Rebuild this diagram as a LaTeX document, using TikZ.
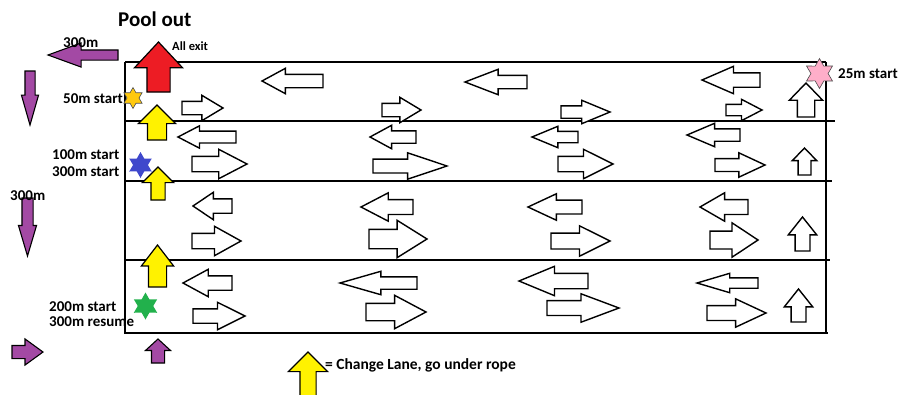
\documentclass[tikz,border=0pt]{standalone}
\usepackage{fontspec}
\setmainfont{Carlito}
\usetikzlibrary{shapes.arrows,shapes.geometric}

\definecolor{paintpurple}{HTML}{A349A4}
\definecolor{paintyellow}{HTML}{FFF200}
\definecolor{paintred}{HTML}{ED1C24}
\definecolor{paintgold}{HTML}{FFC90E}
\definecolor{paintblue}{HTML}{3F48CC}
\definecolor{paintgreen}{HTML}{22B14C}
\definecolor{paintpink}{HTML}{FFAEC9}

\tikzset{
  % length, shaft, head width, tip angle
  dims/.style n args={4}{minimum height=#1, inner ysep=#2/2,
    single arrow head extend=(#3-#2)/2, single arrow tip angle=#4},
  blockarrow/.style={single arrow, draw=black, inner sep=0pt, outer sep=0pt, anchor=tail},
  lanearrow/.style={blockarrow, fill=white, line width=1.4pt},
  ra/.style n args={3}{lanearrow, dims={#1}{#2/2}{#2}{#3}},
  la/.style n args={3}{lanearrow, dims={#1}{#2/2}{#2}{#3}, rotate=180},
  ua/.style n args={3}{lanearrow, dims={#1}{#2/2}{#2}{#3}, rotate=90},
  changelane/.style={blockarrow, fill=paintyellow, line width=1.2pt, rotate=90},
  purplearrow/.style={blockarrow, fill=paintpurple, line width=1.1pt},
  startstar/.style={star, star points=6, star point ratio=1.75, inner sep=0pt},
  note/.style={font=\bfseries\fontsize{15}{17}\selectfont, inner sep=0pt, anchor=west},
}

\begin{document}
\begin{tikzpicture}[x=1pt,y=-1pt]
  \useasboundingbox[fill=white] (0,0) rectangle (902,394);

  % pool and lane ropes
  \draw[line width=2.8pt] (125,62) -- (826,62);
  \draw[line width=2.8pt] (125,62) -- (125,334);
  \draw[line width=2.8pt] (826,62) -- (826,334);
  \draw[line width=1.6pt] (125,121) -- (835,121);
  \draw[line width=1.6pt] (125,181) -- (832,181);
  \draw[line width=1.6pt] (125,260) -- (830,260);
  \draw[line width=1.9pt] (125,333) -- (828,333);

  % lane 1
  \node[la={61}{24}{57}] (l1a) at (323,81) {};
  \node[la={62}{24}{42}] (l1b) at (527,82) {};
  \node[la={58}{26}{47}] (l1c) at (760,80) {};
  \node[ra={41}{24}{62}] (r1a) at (182,108) {};
  \node[ra={39}{24}{62}] (r1b) at (382,110) {};
  \node[ra={49}{22}{45}] (r1c) at (561,112) {};
  \node[ra={36}{20}{55}] (r1d) at (726,110) {};
  \node[ua={34}{32}{88}] (u1) at (806,117) {};

  % lane 2
  \node[la={58}{21}{55}] (l2a) at (236,137) {};
  \node[la={46}{22}{57}] (l2b) at (416,137) {};
  \node[la={46}{20}{45}] (l2c) at (578,137) {};
  \node[la={53}{22}{46}] (l2d) at (740,135) {};
  \node[ra={55}{28}{55}] (r2a) at (192,164) {};
  \node[ra={74}{25}{37}] (r2b) at (373,166) {};
  \node[ra={55}{28}{53}] (r2c) at (558,164) {};
  \node[ra={50}{23}{50}] (r2d) at (715,165) {};
  \node[ua={27}{23}{88}] (u2) at (804.5,175) {};

  % lane 3
  \node[la={39}{26}{68}] (l3a) at (232,206) {};
  \node[la={52}{27}{55}] (l3b) at (413,207) {};
  \node[la={54}{25}{50}] (l3c) at (582,207) {};
  \node[la={48}{27}{60}] (l3d) at (748,207) {};
  \node[ra={49}{28}{58}] (r3a) at (192,241) {};
  \node[ra={58}{36}{64}] (r3b) at (369,239) {};
  \node[ra={59}{29}{53}] (r3c) at (551,241) {};
  \node[ra={48}{33}{67}] (r3d) at (710,240) {};
  \node[ua={34}{27}{77}] (u3) at (802.5,251) {};

  % lane 4
  \node[la={49}{26}{57}] (l4a) at (232,283) {};
  \node[la={77}{22}{32}] (l4b) at (417,283) {};
  \node[la={69}{28}{45}] (l4c) at (588,281) {};
  \node[la={61}{18}{33}] (l4d) at (758,283) {};
  \node[ra={52}{26}{53}] (r4a) at (193,316) {};
  \node[ra={60}{32}{56}] (r4b) at (366,312) {};
  \node[ra={72}{27}{41}] (r4c) at (547,308) {};
  \node[ra={59}{27}{50}] (r4d) at (707,313) {};
  \node[ua={33}{27}{77}] (u4) at (798.5,322) {};

  % exit and lane changes
  \node[blockarrow, fill=paintred, line width=1.2pt, rotate=90, dims={50}{22}{47}{86}] (exit) at (158.5,92) {};
  \node[changelane, dims={35}{18}{36}{90}] (y1) at (157,140) {};
  \node[changelane, dims={33}{13}{30}{90}] (y2) at (158,200) {};
  \node[changelane, dims={42}{17}{31}{75}] (y3) at (157.5,287) {};
  \node[changelane, dims={48}{15}{38}{90}] (ykey) at (308,400) {};

  % swimmer route
  \node[purplearrow, rotate=180, dims={70}{9}{23}{40}] (p1) at (118,55) {};
  \node[purplearrow, rotate=-90, dims={54}{9}{16}{32}] (p2) at (30,71) {};
  \node[purplearrow, rotate=-90, dims={58}{10}{17}{33}] (p3) at (27.5,198) {};
  \node[purplearrow, dims={31}{12}{25}{72}] (p4) at (12,352) {};
  \node[purplearrow, rotate=90, dims={24}{12}{24}{95}] (p5) at (158,363) {};

  % starts
  \node[startstar, fill=paintgold, draw=black!70, line width=0.6pt, minimum size=21pt] (s50) at (133,98) {};
  \node[startstar, fill=paintblue, minimum size=26pt] (s100) at (140.5,165) {};
  \node[startstar, fill=paintgreen, minimum size=27pt] (s200) at (145.5,306) {};
  \node[startstar, fill=paintpink, draw=black!70, line width=0.6pt, minimum size=30pt] (s25) at (819.5,73.5) {};

  % texts
  \node[note, font=\bfseries\fontsize{21}{24}\selectfont] (pool) at (118,19) {Pool out};
  \node[note, font=\bfseries\fontsize{12.5}{14}\selectfont] (allexit) at (172,46) {All exit};
  \node[note] (t300a) at (63,43) {300m};
  \node[note] (t50) at (63,99) {50m start};
  \node[note] (t100) at (52,155) {100m start};
  \node[note] (t300b) at (52,172) {300m start};
  \node[note] (t300c) at (10,196) {300m};
  \node[note] (t200) at (49,307) {200m start};
  \node[note] (t300d) at (49,322) {300m resume};
  \node[note] (t25) at (838,74) {25m start};
  \node[note, font=\bfseries\fontsize{15.5}{17}\selectfont] (key) at (325,365) {= Change Lane, go under rope};
\end{tikzpicture}
\end{document}
